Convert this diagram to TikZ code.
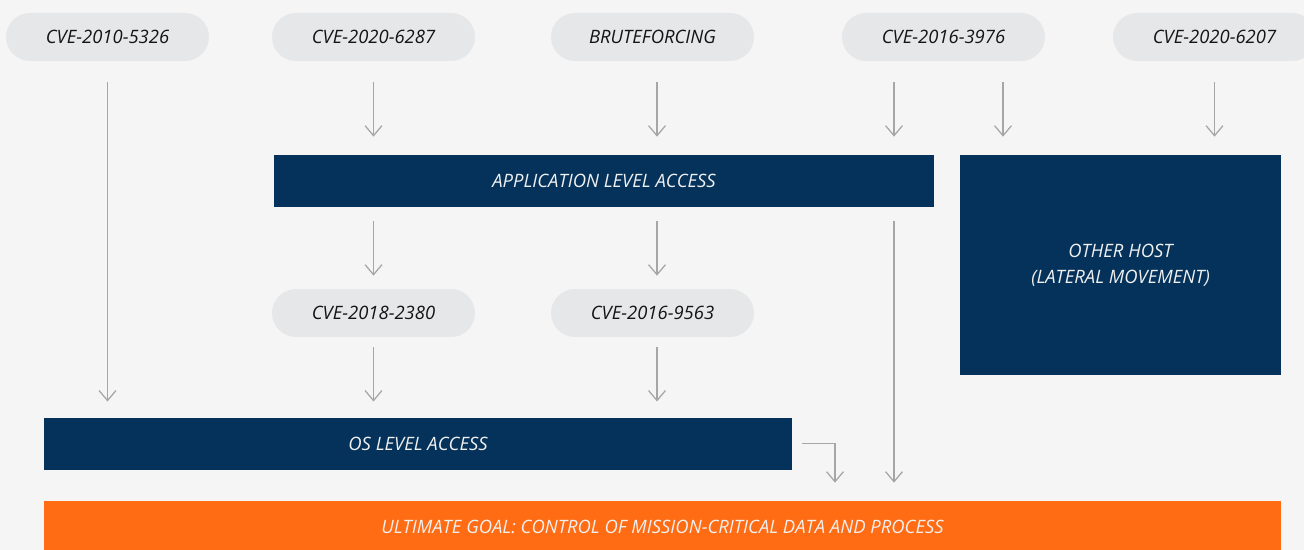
\documentclass[tikz,border=0pt]{standalone}
\usepackage{fontspec}
\setmainfont{Open Sans}
\usetikzlibrary{arrows.meta}
\definecolor{navy}{HTML}{05325A}
\definecolor{goalorange}{HTML}{FF6C14}
\definecolor{pillgray}{HTML}{E6E7E9}
\definecolor{arrowgray}{HTML}{A6A6A6}
\definecolor{bggray}{HTML}{F5F5F5}
\begin{document}
\begin{tikzpicture}[x=0.02cm,y=-0.02cm,
  pill/.style={rectangle,rounded corners=0.48cm,fill=pillgray,text=black!92,
    minimum width=4.06cm,minimum height=0.96cm,inner sep=0pt,
    font=\itshape\fontsize{10.5}{12}\selectfont},
  bar/.style={rectangle,fill=navy,text=white!94!black,inner sep=0pt,align=center,
    font=\itshape\fontsize{10.5}{14.7}\selectfont},
  flow/.style={draw=arrowgray,line width=0.72pt,
    -{Straight Barb[length=5.7pt,width=9.6pt]}}]
\fill[bggray] (0,0) rectangle (1304,550);
\clip (0,0) rectangle (1304,550);

% entry points
\path (107.5,37)node[pill] (cveA) {CVE-2010-5326};
\path (373.5,37)node[pill] (cveB) {CVE-2020-6287};
\path (652.5,37)node[pill] (brute) {BRUTEFORCING};
\path (943.5,37)node[pill] (cveC) {CVE-2016-3976};
\path (1214.5,37)node[pill] (cveD) {CVE-2020-6207};

% access levels
\path (604,181)node[bar,minimum width=13.2cm,minimum height=1.04cm] (app) {APPLICATION LEVEL ACCESS};
\path (1120.5,265)node[bar,minimum width=6.42cm,minimum height=4.4cm] (host) {OTHER HOST\\(LATERAL MOVEMENT)};
\path (373.5,313)node[pill] (cveE) {CVE-2018-2380};
\path (652.5,313)node[pill] (cveF) {CVE-2016-9563};
\path (418,443.75)node[bar,minimum width=14.96cm,minimum height=1.035cm] (os) {OS LEVEL ACCESS};
\path (662.5,527)node[bar,fill=goalorange,minimum width=24.74cm,minimum height=1.04cm] (goal) {ULTIMATE GOAL: CONTROL OF MISSION-CRITICAL DATA AND PROCESS};

% columns of the arrows
\coordinate (colA) at (657,0);
\coordinate (colB) at (894,0);
\coordinate (colC) at (1003,0);
\coordinate (colD) at (835,0);

% first step
\draw[flow,shorten <=0.42cm,shorten >=0.32cm] (cveA.south) -- (cveA.south |- os.north);
\draw[flow,shorten <=0.42cm,shorten >=0.36cm] (cveB.south) -- (cveB.south |- app.north);
\draw[flow,shorten <=0.42cm,shorten >=0.36cm] (brute.south -| colA) -- (app.north -| colA);
\draw[flow,shorten <=0.42cm,shorten >=0.36cm] (cveC.south -| colB) -- (app.north -| colB);
\draw[flow,shorten <=0.42cm,shorten >=0.36cm] (cveC.south -| colC) -- (host.north -| colC);
\draw[flow,shorten <=0.42cm,shorten >=0.36cm] (cveD.south) -- (cveD.south |- host.north);

% from the application
\draw[flow,shorten <=0.28cm,shorten >=0.26cm] (app.south -| cveE.south) -- (cveE.north);
\draw[flow,shorten <=0.28cm,shorten >=0.26cm] (app.south -| colA) -- (cveF.north -| colA);
\draw[flow,shorten <=0.28cm,shorten >=0.36cm] (app.south -| colB) -- (goal.north -| colB);

% down to the OS
\draw[flow,shorten <=0.2cm,shorten >=0.32cm] (cveE.south) -- (cveE.south |- os.north);
\draw[flow,shorten <=0.2cm,shorten >=0.32cm] (cveF.south -| colA) -- (os.north -| colA);
\draw[flow,shorten >=0.36cm] ([xshift=0.2cm]os.east) -| (goal.north -| colD);
\end{tikzpicture}
\end{document}
